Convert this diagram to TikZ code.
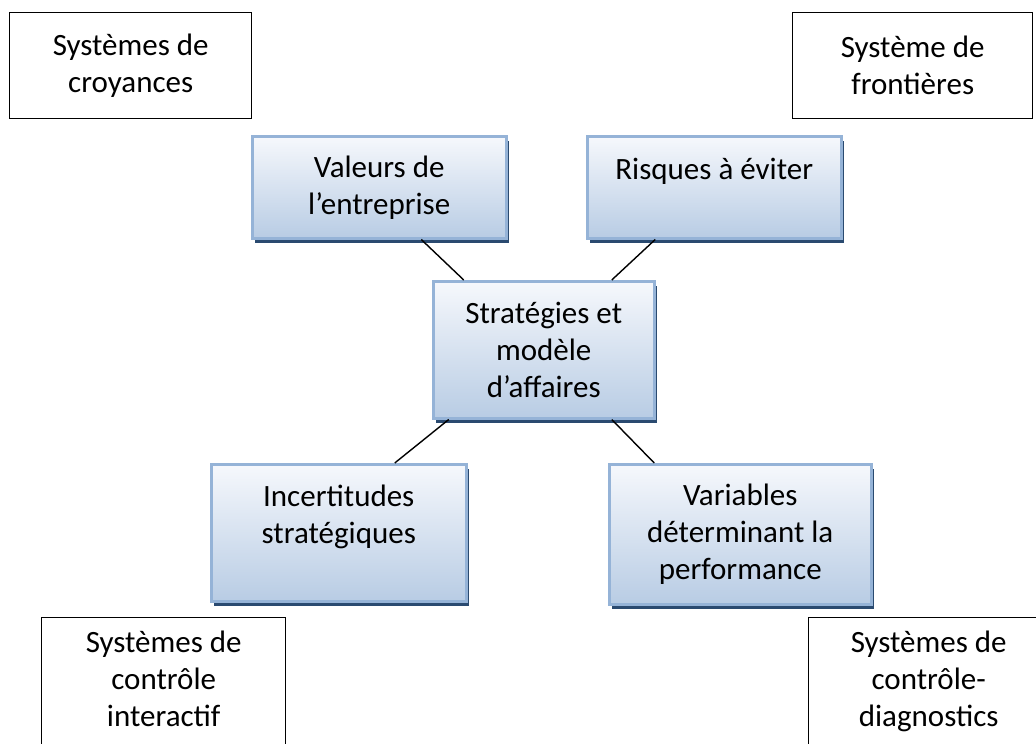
\documentclass[tikz,border=0pt]{standalone}
\usepackage{fontspec}
\setmainfont{Carlito}
\usetikzlibrary{shadows}
\definecolor{edgeblue}{HTML}{95B3D7}
\definecolor{topblue}{HTML}{F6F8FC}
\definecolor{botblue}{HTML}{B8CCE4}
\definecolor{shadowblue}{HTML}{2A4A70}
\tikzset{
  every node/.style={font=\fontsize{31}{37}\selectfont, align=center, inner sep=0pt},
  plainbox/.style={draw=black, line width=1.4pt, anchor=north west},
  bluebox/.style={draw=edgeblue, line width=2.5pt, top color=topblue, bottom color=botblue,
    anchor=north west, general shadow={fill=shadowblue, shadow xshift=3pt, shadow yshift=-5pt}},
  link/.style={draw=black, line width=1.4pt}
}

\begin{document}
\begin{tikzpicture}[x=1pt, y=-1pt]
  \useasboundingbox (0,0) rectangle (1036,744);

  % the four systems
  \node[plainbox, minimum width=242, minimum height=106] (croy) at (9,12) {Systèmes de\\croyances};
  \node[plainbox, minimum width=240, minimum height=106] (front) at (792,12) {Système de\\frontières};
  \node[plainbox, minimum width=244, minimum height=159] (inter) at (41,617) {Systèmes de\\contrôle\\interactif\\\mbox{}};
  \node[plainbox, minimum width=240, minimum height=159] (diag) at (808,617) {Systèmes de\\contrôle-\\diagnostics\\\mbox{}};

  % levers around the strategy
  \node[bluebox, minimum width=254, minimum height=102] (val) at (251,135) {Valeurs de\\l’entreprise};
  \node[bluebox, minimum width=254, minimum height=102] (risk) at (586,135) {Risques à éviter\\\mbox{}};
  \node[bluebox, minimum width=221, minimum height=137] (strat) at (432,280) {Stratégies et\\modèle\\d’affaires};
  \node[bluebox, minimum width=255, minimum height=137] (incert) at (210,463) {Incertitudes\\stratégiques\\\mbox{}};
  \node[bluebox, minimum width=262, minimum height=140] (perf) at (608,463) {Variables\\déterminant la\\performance};

  \draw[link] ([xshift=42pt]val.south) -- ([xshift=-80pt]strat.north);
  \draw[link] ([xshift=-59pt]risk.south) -- ([xshift=68pt]strat.north);
  \draw[link] ([xshift=-95pt]strat.south) -- ([xshift=56pt]incert.north);
  \draw[link] ([xshift=68pt]strat.south) -- ([xshift=-86pt]perf.north);
\end{tikzpicture}
\end{document}
